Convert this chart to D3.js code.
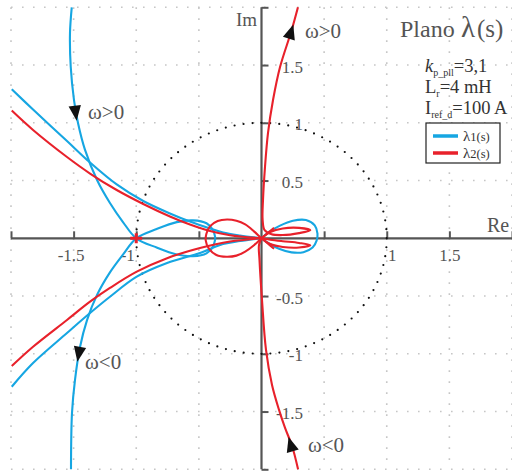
<!DOCTYPE html>
<html>
<head>
<meta charset="utf-8">
<script src="https://cdn.jsdelivr.net/npm/d3@7"></script>
<style>
  html, body { margin: 0; padding: 0; background: #fff; }
  svg { display: block; }
  text { font-family: "Liberation Serif", "Times New Roman", serif; }
</style>
</head>
<body>
<svg id="chart" width="512" height="471"></svg>
<script>
// ---- Axis ticks and labels ----
const xTicks = [-2, -1.5, -1, -0.5, 0.5, 1, 1.5, 2];
const yTicks = [-2, -1.5, -1, -0.5, 0.5, 1, 1.5, 2];
const xTickLabels = [-1.5, -1, 1, 1.5];
const yTickLabels = [-1.5, -1, -0.5, 0.5, 1, 1.5];

// ---- λ1(s) locus pieces, [Re, Im] ----
const lambda1PosBranch = [
  [-1.515, 2.0], [-1.529, 1.778], [-1.523, 1.483], [-1.497, 1.197], [-1.465, 0.998],
  [-1.409, 0.765], [-1.313, 0.505], [-1.21, 0.306], [-1.106, 0.141], [-1.0, 0.0],
  [-0.837, -0.08], [-0.677, -0.14], [-0.547, -0.155], [-0.439, -0.13], [-0.387, -0.072],
  [-0.371, -0.014], [-0.368, 0.0]
];
const lambda1NegBranch = [
  [-1.521, -2.0], [-1.513, -1.512], [-1.489, -1.226], [-1.449, -0.941], [-1.393, -0.708],
  [-1.313, -0.49], [-1.21, -0.295], [-1.106, -0.141], [-1.0, 0.0],
  [-0.837, 0.08], [-0.677, 0.14], [-0.547, 0.155], [-0.439, 0.13], [-0.387, 0.072],
  [-0.371, 0.014], [-0.368, 0.0]
];
const lambda1UpperTail = [
  [-1.994, 1.29], [-1.824, 1.115], [-1.553, 0.842], [-1.369, 0.656], [-1.156, 0.466],
  [-0.944, 0.323], [-0.731, 0.215], [-0.571, 0.145], [-0.411, 0.085], [-0.307, 0.05],
  [-0.172, 0.024], [0, 0]
];
const lambda1LowerTail = [
  [-1.994, -1.285], [-1.824, -1.08], [-1.553, -0.82], [-1.369, -0.647], [-1.21, -0.506],
  [-0.996, -0.332], [-0.754, -0.214], [-0.491, -0.127], [-0.307, -0.05], [-0.172, -0.024],
  [0, 0]
];
const lambda1RightLoop = [
  [0, 0], [0.06, 0.055], [0.148, 0.11], [0.251, 0.152], [0.355, 0.158], [0.425, 0.112],
  [0.447, 0.04], [0.44, -0.02], [0.408, -0.08], [0.335, -0.12], [0.24, -0.122],
  [0.14, -0.09], [0.06, -0.045], [0, 0]
];

// ---- λ2(s) locus pieces, [Re, Im] ----
const lambda2UpperBranch = [
  [0.291, 2.0], [0.241, 1.803], [0.148, 1.483], [0.092, 1.197], [0.052, 0.912],
  [0.028, 0.618], [0.012, 0.332], [0.009, 0.158], [0.025, 0.07], [0.08, 0.035],
  [0.17, 0.028], [0.3, 0.045], [0.39, 0.07], [0.3, 0.09], [0.17, 0.085], [0.07, 0.055], [0, 0]
];
const lambda2LowerBranch = [
  [0.292, -2.0], [0.244, -1.798], [0.188, -1.642], [0.14, -1.486], [0.084, -1.27],
  [0.036, -0.967], [0.004, -0.534], [-0.016, -0.188], [-0.02, -0.058], [0, 0]
];
const lambda2LowerPetal = [
  [0, 0], [0.07, -0.05], [0.17, -0.075], [0.3, -0.08], [0.39, -0.06], [0.3, -0.04],
  [0.17, -0.025], [0.07, -0.012], [0, 0]
];
const lambda2LeftLoop = [
  [0.1, -0.09], [0.05, -0.045], [0, 0], [-0.06, 0.06], [-0.13, 0.12], [-0.2, 0.152],
  [-0.275, 0.163], [-0.35, 0.15], [-0.41, 0.105], [-0.44, 0.04], [-0.445, -0.02],
  [-0.42, -0.09], [-0.36, -0.145], [-0.28, -0.16], [-0.2, -0.15], [-0.13, -0.115],
  [-0.06, -0.06], [0, 0], [0.05, 0.045], [0.1, 0.09]
];
const lambda2UpperTail = [
  [-1.994, 1.106], [-1.824, 0.938], [-1.553, 0.704], [-1.369, 0.561], [-1.156, 0.418],
  [-0.944, 0.297], [-0.731, 0.189], [-0.571, 0.119], [-0.411, 0.063], [-0.251, 0.026], [0, 0]
];
const lambda2LowerTail = [
  [-1.994, -1.106], [-1.824, -0.939], [-1.553, -0.707], [-1.369, -0.549], [-1.21, -0.43],
  [-0.996, -0.289], [-0.754, -0.172], [-0.491, -0.084], [-0.251, -0.028], [0, 0]
];

// critical point (-1, 0)
const criticalPoint = [-1, 0];

// direction arrows: tip and a preceding point on the same locus
const arrowMarks = [
  { series: "l1", tip: [-1.476, 1.018], back: [-1.497, 1.197] },
  { series: "l1", tip: [-1.47, -1.068], back: [-1.449, -0.941] },
  { series: "l2", tip: [0.254, 1.852], back: [0.148, 1.483] },
  { series: "l2", tip: [0.216, -1.72], back: [0.292, -2.0] }
];
const omegaNotes = [
  { text: "ω>0", at: [-1.385, 1.032] },
  { text: "ω<0", at: [-1.409, -1.132] },
  { text: "ω>0", at: [0.347, 1.734] },
  { text: "ω<0", at: [0.371, -1.85] }
];

// ---- drawing ----
const SERIF = '"Liberation Serif", "Times New Roman", serif';
const BLUE = "#16a6e2", RED = "#e8212b", AXIS = "#555";
const svg = d3.select("#chart");
const x = d3.scaleLinear().domain([-2, 2]).range([11, 512]);
const y = d3.scaleLinear().domain([-2, 2]).range([469.3, 7.3]);

// dotted grid
const grid = svg.append("g").attr("stroke", "#c6c6c6").attr("stroke-width", 1.6)
  .attr("stroke-dasharray", "1.6,9.4");
grid.selectAll("line.v").data(xTicks).join("line")
  .attr("x1", d => x(d)).attr("x2", d => x(d)).attr("y1", y(2)).attr("y2", y(-2));
grid.selectAll("line.h").data(yTicks).join("line")
  .attr("y1", d => y(d)).attr("y2", d => y(d)).attr("x1", x(-2)).attr("x2", x(2));

// axes through the origin
const fmt = d => (xTickLabels.includes(d) ? String(d) : "");
const xAxisG = svg.append("g").attr("transform", `translate(0,${y(0)})`)
  .call(d3.axisBottom(x).tickValues(xTicks).tickSize(-7).tickSizeOuter(0)
    .tickPadding(11).tickFormat(fmt));
const xLabelShift = { "-1.5": -3, "-1": -9, "1": 5, "1.5": 0 };
xAxisG.selectAll(".tick text").attr("dx", d => (xLabelShift[String(d)] || 0));

const yAxisG = svg.append("g").attr("transform", `translate(${x(0)},0)`)
  .call(d3.axisRight(y).tickValues(yTicks).tickSize(7).tickSizeOuter(0)
    .tickFormat(d => (yTickLabels.includes(d) ? String(d) : "")));
yAxisG.selectAll(".tick text").attr("x", 41.5).attr("text-anchor", "end").attr("dy", "0.42em");

[xAxisG, yAxisG].forEach(g => {
  g.attr("font-family", null).attr("font-size", null);
  g.select(".domain").attr("stroke", AXIS).attr("stroke-width", 2.2);
  g.selectAll(".tick line").attr("stroke", AXIS).attr("stroke-width", 2);
  g.selectAll(".tick text").attr("fill", AXIS)
    .style("font-size", "17px").style("font-family", SERIF);
});
// full-length axis lines
yAxisG.select(".domain").attr("d", `M0,${y(2)}V${y(-2)}`);
xAxisG.select(".domain").attr("d", `M${x(-2)},0H${x(2)}`);

// unit circle (dotted)
svg.append("ellipse")
  .attr("cx", x(0)).attr("cy", y(0))
  .attr("rx", x(1) - x(0)).attr("ry", y(0) - y(1))
  .attr("fill", "none").attr("stroke", "#111").attr("stroke-width", 2.2)
  .attr("stroke-linecap", "round").attr("stroke-dasharray", "0,9");

// loci
const line = d3.line().x(d => x(d[0])).y(d => y(d[1])).curve(d3.curveCatmullRom.alpha(0.5));
const drawPieces = (pieces, color) => {
  svg.append("g").attr("fill", "none").attr("stroke", color).attr("stroke-width", 2.1)
    .attr("stroke-linejoin", "round")
    .selectAll("path").data(pieces).join("path").attr("d", line);
};
drawPieces([lambda1PosBranch, lambda1NegBranch, lambda1UpperTail, lambda1LowerTail, lambda1RightLoop], BLUE);
drawPieces([lambda2UpperTail, lambda2LowerTail, lambda2LeftLoop, lambda2LowerPetal,
            lambda2UpperBranch, lambda2LowerBranch], RED);

// critical point marker
svg.append("path")
  .attr("d", `M${x(criticalPoint[0]) - 6},${y(criticalPoint[1])}h12M${x(criticalPoint[0])},${y(criticalPoint[1]) - 5}v10`)
  .attr("stroke", RED).attr("stroke-width", 3);

// direction arrows
svg.append("g").selectAll("path").data(arrowMarks).join("path")
  .attr("fill", "#111")
  .attr("d", d => {
    const tx = x(d.tip[0]), ty = y(d.tip[1]);
    const bx = x(d.back[0]), by = y(d.back[1]);
    const L = Math.hypot(tx - bx, ty - by), ux = (tx - bx) / L, uy = (ty - by) / L;
    const cx = tx - 15 * ux, cy = ty - 15 * uy;
    return `M${tx},${ty}L${cx - 6.2 * uy},${cy + 6.2 * ux}L${cx + 6.2 * uy},${cy - 6.2 * ux}Z`;
  });
svg.append("g").selectAll("text").data(omegaNotes).join("text")
  .attr("x", d => x(d.at[0])).attr("y", d => y(d.at[1]))
  .style("font-size", "21px").attr("fill", AXIS).text(d => d.text);

// axis names
svg.append("text").attr("x", 257).attr("y", 26).attr("text-anchor", "end")
  .style("font-size", "19px").attr("fill", AXIS).text("Im");
svg.append("text").attr("x", 487).attr("y", 232)
  .style("font-size", "20px").attr("fill", AXIS).text("Re");

// title
svg.append("text").attr("x", 400).attr("y", 37).style("font-size", "24px").attr("fill", AXIS).text("Plano");
svg.append("text").attr("x", 461).attr("y", 37).style("font-size", "29px").attr("fill", AXIS).text("λ");
svg.append("text").attr("x", 477).attr("y", 37).style("font-size", "25px").attr("fill", AXIS).text("(s)");

// parameters
const params = svg.append("g").attr("fill", "#333").style("font-size", "18.5px");
const sub = (t, s) => t.append("tspan").style("font-size", "10px").attr("dy", 4).text(s);
const p1 = params.append("text").attr("x", 425).attr("y", 72);
p1.append("tspan").attr("font-style", "italic").text("k");
sub(p1, "p_pll");
p1.append("tspan").attr("dy", -4).text("=3,1");
const p2 = params.append("text").attr("x", 425).attr("y", 93);
p2.append("tspan").text("L");
sub(p2, "r");
p2.append("tspan").attr("dy", -4).text("=4 mH");
const p3 = params.append("text").attr("x", 425).attr("y", 114);
p3.append("tspan").text("I");
sub(p3, "ref_d");
p3.append("tspan").attr("dy", -4).text("=100 A");

// legend
const legend = svg.append("g");
legend.append("rect").attr("x", 426).attr("y", 123).attr("width", 74).attr("height", 40)
  .attr("fill", "#fff").attr("stroke", "#222").attr("stroke-width", 1.2);
[["1", BLUE, 136], ["2", RED, 153]].forEach(([k, c, yy]) => {
  legend.append("line").attr("x1", 433).attr("x2", 458).attr("y1", yy).attr("y2", yy)
    .attr("stroke", c).attr("stroke-width", 3.5);
  const t = legend.append("text").attr("x", 463).attr("y", yy + 5).attr("fill", "#333").style("font-size", "15px");
  t.append("tspan").text("λ");
  t.append("tspan").style("font-size", "12.5px").text(k + "(s)");
});
</script>
</body>
</html>
